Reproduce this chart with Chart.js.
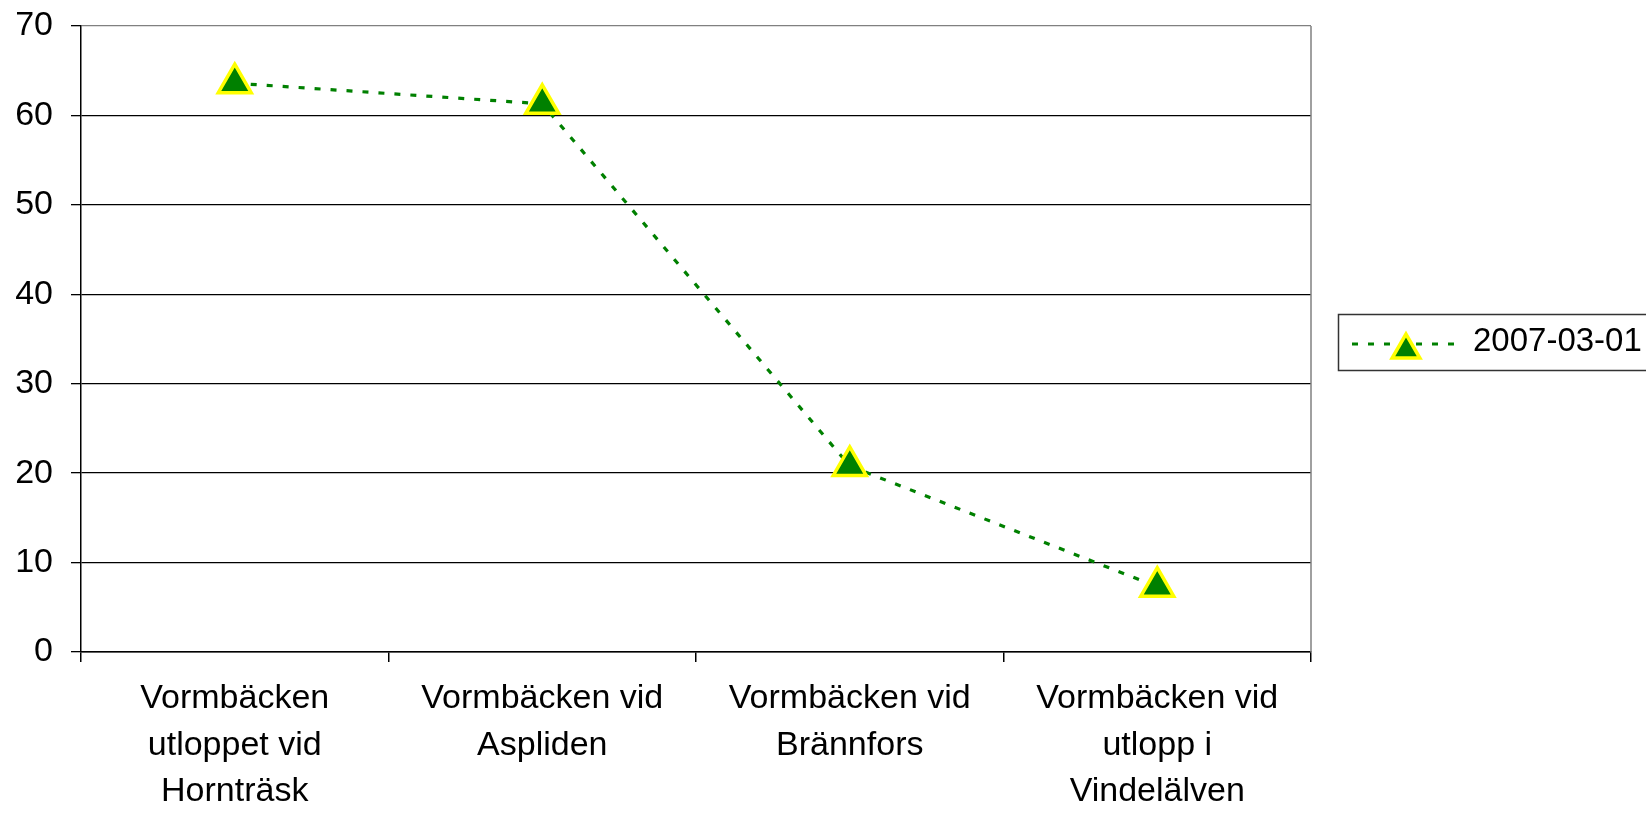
<!DOCTYPE html>
<html>
<head>
<meta charset="utf-8">
<script src="https://cdn.jsdelivr.net/npm/chart.js@4/dist/chart.umd.min.js"></script>
<style>
  html, body { margin: 0; padding: 0; background: #fff; }
  #wrap { width: 1646px; height: 813px; }
</style>
</head>
<body>
<div id="wrap"><canvas id="chart" width="1646" height="813"></canvas></div>
<script>
// Data
const categories = [
    ['Vormbäcken', 'utloppet vid', 'Hornträsk'],
    ['Vormbäcken vid', 'Aspliden'],
    ['Vormbäcken vid', 'Brännfors'],
    ['Vormbäcken vid', 'utlopp i', 'Vindelälven']
];
const seriesLabel = '2007-03-01';
const seriesValues = [63.6, 61.3, 20.8, 7.3];
const yMin = 0;
const yMax = 70;
const yStep = 10;

const green = '#008000';
const yellow = '#FFFF00';
const fontFamily = '"Liberation Sans", Arial, sans-serif';

// Excel-style triangle marker
function drawTriangle(ctx, x, y, r) {
    ctx.beginPath();
    ctx.moveTo(x, y - r);
    ctx.lineTo(x + r * Math.sin(Math.PI / 3), y + r / 2);
    ctx.lineTo(x - r * Math.sin(Math.PI / 3), y + r / 2);
    ctx.closePath();
    ctx.fillStyle = green;
    ctx.fill();
    ctx.lineWidth = 3.5;
    ctx.strokeStyle = yellow;
    ctx.stroke();
}

// plot area frame (right side) + legend box on the right
const framePlugin = {
    id: 'frame',
    beforeDatasetsDraw(chart) {
        const { ctx, chartArea } = chart;
        ctx.save();
        ctx.strokeStyle = '#808080';
        ctx.lineWidth = 1.5;
        ctx.beginPath();
        ctx.moveTo(chartArea.right, chartArea.top);
        ctx.lineTo(chartArea.right, chartArea.bottom);
        ctx.stroke();
        ctx.restore();
    },
    afterDraw(chart) {
        const ctx = chart.ctx;
        const ds = chart.data.datasets[0];
        ctx.save();
        // box
        ctx.strokeStyle = '#333';
        ctx.lineWidth = 1.5;
        ctx.strokeRect(1338.5, 314.5, 340, 56);
        // line sample
        ctx.strokeStyle = green;
        ctx.lineWidth = 3.2;
        ctx.setLineDash([6, 10]);
        ctx.beginPath();
        ctx.moveTo(1352, 344);
        ctx.lineTo(1460, 344);
        ctx.stroke();
        ctx.setLineDash([]);
        drawTriangle(ctx, 1406, 350, 16);
        // text
        ctx.fillStyle = '#000';
        ctx.font = '33px ' + fontFamily;
        ctx.textAlign = 'left';
        ctx.textBaseline = 'middle';
        ctx.fillText(ds.label, 1473, 342);
        ctx.restore();
    }
};

const ctx = document.getElementById('chart');
const chart = new Chart(ctx, {
    type: 'line',
    data: {
        labels: categories,
        datasets: [{
            label: seriesLabel,
            data: seriesValues,
            borderColor: green,
            borderWidth: 3.2,
            borderDash: [6, 10],
            fill: false,
            tension: 0,
            pointStyle: 'triangle',
            pointRadius: 19,
            pointHoverRadius: 19,
            pointBackgroundColor: green,
            pointBorderColor: yellow,
            pointBorderWidth: 3.5
        }]
    },
    options: {
        responsive: false,
        animation: false,
        devicePixelRatio: 1,
        layout: {
            padding: { left: 0, top: 26, right: 335, bottom: 0 }
        },
        plugins: {
            legend: { display: false },
            tooltip: { enabled: false },
            title: { display: false }
        },
        scales: {
            x: {
                offset: true,
                grid: {
                    offset: true,
                    drawOnChartArea: false,
                    drawTicks: true,
                    tickLength: 10,
                    tickColor: '#000',
                    lineWidth: 1.5
                },
                border: { color: '#000', width: 1.5 },
                ticks: {
                    color: '#000',
                    padding: 14,
                    maxRotation: 0,
                    autoSkip: false,
                    font: { family: fontFamily, size: 34, lineHeight: 1.36 }
                },
                afterFit(scale) { scale.height = 161; }
            },
            y: {
                min: yMin,
                max: yMax,
                grid: {
                    color: (c) => (c.tick && c.tick.value === yMax) ? '#808080' : '#000',
                    lineWidth: 1.3,
                    drawTicks: true,
                    tickLength: 10,
                    tickColor: '#000'
                },
                border: { color: '#000', width: 1.5 },
                ticks: {
                    stepSize: yStep,
                    color: '#000',
                    padding: 18,
                    font: { family: fontFamily, size: 34, lineHeight: 0.1 }
                },
                afterFit(scale) { scale.width = 81; }
            }
        }
    },
    plugins: [framePlugin]
});
</script>
</body>
</html>
